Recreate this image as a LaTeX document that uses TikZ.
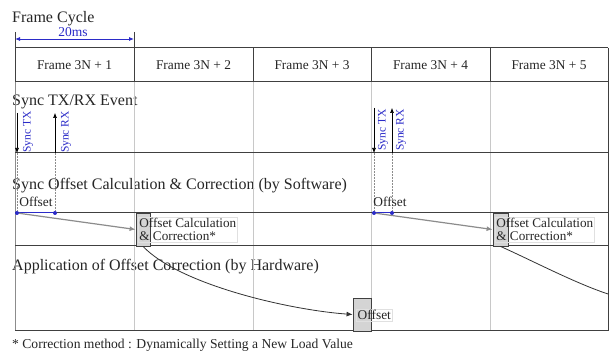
\documentclass[tikz,border=0pt]{standalone}
\usepackage{fontspec}
\setmainfont{Liberation Serif}
\usetikzlibrary{arrows.meta}
\definecolor{linedark}{HTML}{404040}
\definecolor{linegray}{HTML}{C8C8C8}
\definecolor{bluetxt}{HTML}{2B2BC8}
\definecolor{boxfill}{HTML}{D4D4D4}
\tikzset{
  title/.style={anchor=base west, inner sep=0pt, font=\fontsize{16}{18}\selectfont, text=black!85},
  framelbl/.style={inner sep=0pt, font=\fontsize{13.4}{15}\selectfont, text=black!85},
  synclbl/.style={rotate=90, inner sep=0pt, font=\fontsize{11.5}{12}\selectfont, text=bluetxt},
  darkline/.style={draw=linedark, line width=1pt},
  grayline/.style={draw=linegray, line width=0.8pt},
  dotline/.style={draw=black!45, line width=0.5pt, densely dotted},
  bdot/.style={circle, fill=bluetxt, inner sep=0pt, minimum size=4pt},
  calcbox/.style={draw=linedark, fill=boxfill, line width=0.8pt, inner sep=0pt},
  calctext/.style={anchor=west, draw=black!12, align=left, inner sep=1.2pt, font=\fontsize{13.2}{12.6}\selectfont, text=black!85},
  offlbl/.style={inner sep=0pt, font=\fontsize{13.4}{15}\selectfont, text=black!85},
  eventarrow/.style={draw=black, line width=0.6pt, -{Latex[length=5pt,width=4pt]}},
  shiftarrow/.style={draw=black!45, line width=1.2pt, -{Latex[length=6pt,width=5pt]}, shorten >=0pt},
  curvearrow/.style={draw=black!80, line width=0.8pt, -{Latex[length=6pt,width=5pt]}},
}
\begin{document}
\begin{tikzpicture}[x=1pt,y=-1pt]
\useasboundingbox (0,0) rectangle (614,358);
\fill[white] (0,0) rectangle (614,358);

% titles
\node[title] (tcycle) at (12,23) {Frame Cycle};
\node[title] (tsync) at (12,106) {Sync TX/RX Event};
\node[title] (tsoft) at (12,190) {Sync Offset Calculation \& Correction (by Software)};
\node[title] (thard) at (12,271) {Application of Offset Correction (by Hardware)};
\node[anchor=base west, inner sep=0pt, font=\fontsize{13.6}{15}\selectfont, text=black!85] (foot) at (12,349) {* Correction method : Dynamically Setting a New Load Value};

% 20ms dimension
\coordinate (d1t) at (15,32); \coordinate (d1b) at (15,48);
\coordinate (d2t) at (134,32); \coordinate (d2b) at (134,48);
\draw[draw=linedark, line width=0.8pt] (d1t) -- (d1b);
\draw[draw=linedark, line width=0.8pt] (d2t) -- (d2b);
\coordinate (da) at (15,39); \coordinate (db) at (134,39);
\draw[draw=bluetxt, line width=0.8pt, {Latex[length=5pt,width=4pt]}-{Latex[length=5pt,width=4pt]}] (da) -- (db);
\node[inner sep=0pt, anchor=base, font=\fontsize{13.5}{14}\selectfont, text=bluetxt] (dl) at (73,37) {20ms};

% light inner vertical lines
\foreach \x in {134,253,371,490} {
  \draw[grayline] (\x,82) -- (\x,331);
}
\draw[draw=black!45, line width=0.8pt] (15,82) -- (15,331);
\draw[darkline] (608,48) -- (608,331);

% frame row
\draw[darkline] (15,48) -- (608,48);
\draw[darkline] (15,82) -- (608,82);
\foreach \x in {15,134,253,371,490} {
  \draw[darkline] (\x,48) -- (\x,82);
}
\node[framelbl] (f1) at (74.5,65) {Frame 3N + 1};
\node[framelbl] (f2) at (193.5,65) {Frame 3N + 2};
\node[framelbl] (f3) at (312,65) {Frame 3N + 3};
\node[framelbl] (f4) at (430.5,65) {Frame 3N + 4};
\node[framelbl] (f5) at (549,65) {Frame 3N + 5};

% horizontal rules
\draw[darkline] (15,153) -- (608,153);
\draw[darkline] (15,213) -- (608,213);
\draw[darkline] (15,246) -- (608,246);
\draw[darkline] (15,331) -- (608,331);

% ---- group 1 ----
\coordinate (tx1a) at (17,113); \coordinate (tx1b) at (17,153);
\coordinate (rx1a) at (55,153); \coordinate (rx1b) at (55,113);
\draw[eventarrow] (tx1a) -- (tx1b);
\draw[eventarrow] (rx1a) -- (rx1b);
\node[synclbl] (stx1) at (28,132) {Sync TX};
\node[synclbl] (srx1) at (66,132) {Sync RX};
\node[bdot] (o1a) at (17,213) {};
\node[bdot] (o1b) at (55,213) {};
\draw[dotline] (tx1b) -- (o1a);
\draw[dotline] (rx1a) -- (o1b);
\draw[draw=bluetxt, line width=1pt] (o1a) -- (o1b);
\node[offlbl] (ol1) at (36,202) {Offset};
\node[calcbox, minimum width=14pt, minimum height=33pt] (c1) at (143,229.5) {};
\node[calctext] (ct1) at (138,229.5) {Offset Calculation\\\& Correction*};
\draw[shiftarrow] (o1a) -- (c1.west);
\node[calcbox, minimum width=18pt, minimum height=33pt] (h1) at (362,314.5) {};
\node[offlbl, anchor=west, draw=black!12, inner sep=1.5pt] (hl1) at (356,315) {Offset};
\draw[curvearrow] (c1.south) .. controls (180,285) and (290,310) .. (h1.west);

% ---- group 2 ----
\coordinate (tx2a) at (374,108); \coordinate (tx2b) at (374,153);
\coordinate (rx2a) at (392,153); \coordinate (rx2b) at (392,108);
\draw[eventarrow] (tx2a) -- (tx2b);
\draw[eventarrow] (rx2a) -- (rx2b);
\node[synclbl] (stx2) at (383,130) {Sync TX};
\node[synclbl] (srx2) at (401,130) {Sync RX};
\node[bdot] (o2a) at (374,213) {};
\node[bdot] (o2b) at (392,213) {};
\draw[dotline] (tx2b) -- (o2a);
\draw[dotline] (rx2a) -- (o2b);
\draw[draw=bluetxt, line width=1pt] (o2a) -- (o2b);
\node[offlbl] (ol2) at (390,202) {Offset};
\node[calcbox, minimum width=15pt, minimum height=33pt] (c2) at (500.5,229.5) {};
\node[calctext] (ct2) at (495,229.5) {Offset Calculation\\\& Correction*};
\draw[shiftarrow] (o2a) -- (c2.west);
\coordinate (cend) at (608,294);
\draw[draw=black!80, line width=0.8pt] (c2.south) .. controls (535,262) and (575,283) .. (cend);
\end{tikzpicture}
\end{document}
